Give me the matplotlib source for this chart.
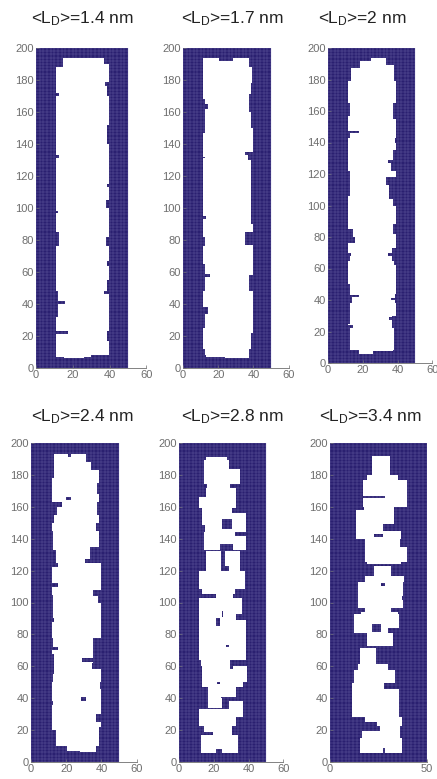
"""Six lattice snapshots of the channel for increasing <L_D>."""
import matplotlib

matplotlib.use("Agg")
from matplotlib.colors import ListedColormap
import matplotlib.pyplot as plt
import numpy as np

plt.rcParams["font.family"] = ["Liberation Sans", "DejaVu Sans"]
plt.rcParams["mathtext.default"] = "regular"

W, H = 437, 779
NAVY = "#2a2070"
MESH = "#8c88c4"
GREY = "#6e6e6e"
SUB = 4  # raster cells per lattice unit

titles = ["1.4", "1.7", "2", "2.4", "2.8", "3.4"]
xticks = [[0, 20, 40, 60]] * 5 + [[0, 50]]
yticks = list(range(0, 201, 20))

# each entry: y0, y1, x0, x1 in lattice units
white_14 = [(6, 7, 15, 26), (7, 8, 11, 30), (8, 188, 11, 39.5), (188, 194, 14.5, 37), (188, 190, 37, 39.5)]
blue_14 = [(21, 23, 11, 17.5), (40, 42, 11, 15.5), (32, 48, 11, 12), (76, 85, 11, 12.5), (97, 98, 11, 12),
           (131, 133, 11, 12.5), (170, 172, 11, 12.5), (17, 23, 38.5, 39.5), (46, 48, 37, 39.5),
           (48, 55, 38.5, 39.5), (64, 67, 38.5, 39.5), (76, 82, 38, 39.5), (100, 105, 38, 39.5),
           (113, 115, 38.5, 39.5), (140, 152, 38.5, 39.5), (170, 178, 38.5, 39.5), (176, 179, 37.5, 39.5)]

white_17 = [(6, 7, 24, 37.5), (7, 8, 13, 37.5), (8, 12, 12.5, 37.5), (12, 188, 11.5, 39.5), (188, 194, 11.5, 37.5)]
blue_17 = [(192, 194, 20.5, 28.5), (178, 188, 39, 39.5), (150, 178, 38.5, 39.5), (160, 171, 37.5, 39.5),
           (133, 135, 35.7, 39.5), (130, 133, 37, 39.5), (90, 130, 38.5, 39.5), (77, 85, 35.7, 39.5),
           (48, 58, 37.5, 39.5), (10, 22, 38.5, 39.5), (6, 10, 37.5, 39.5), (25, 35, 11.5, 12.5),
           (34, 38, 11.5, 14), (48, 65, 11.5, 12.5), (57, 59, 11.5, 15.5), (76, 82, 11.5, 12.5),
           (93, 95, 11.5, 13), (131, 132, 11.5, 12.5), (147, 158, 11.5, 12.5), (158, 168, 11.5, 12.5),
           (162, 165, 11.5, 14)]

white_20 = [(8, 22, 12.5, 38), (5.5, 8, 18, 26), (7.5, 9.5, 26, 37.5), (22, 179, 11.5, 39),
            (179, 187, 13, 38), (187, 189, 18.5, 38), (189, 191.5, 18.5, 33.7), (191.5, 193.5, 24.5, 33.7)]
blue_20 = [(8, 21, 11.5, 12.5), (22, 24, 11.5, 14.5), (25, 50, 11.5, 12.5), (38, 43, 11.5, 14),
           (42, 43, 11.5, 18), (65, 70, 11.5, 12.5), (68, 70, 11.5, 13), (76, 80, 11.5, 15.5),
           (80, 85, 11.5, 14.5), (106, 122, 11.5, 12.5), (146, 147, 11.5, 18), (143, 147, 11.5, 12.5),
           (157, 165, 11.5, 12.5), (22, 30, 36.8, 39), (27, 29, 35.3, 39), (40, 41, 36, 39),
           (38, 44, 38.5, 39), (65, 73, 36.8, 39), (68, 70, 34.5, 39), (62, 65, 38, 39), (82, 88, 37.5, 39),
           (100, 104, 37.5, 39), (104, 113, 35.3, 39), (113, 118, 33.4, 39), (122, 127, 36, 39),
           (127, 129, 34.5, 39), (129, 135, 37.5, 39), (140, 143, 38.5, 39), (155, 165, 37.5, 39)]

white_24 = [(6, 7, 27.8, 36.8), (7, 10, 20.3, 36.8), (10, 20, 14.3, 38.7), (20, 125, 11.8, 40),
            (125, 127, 11.8, 38), (127, 183, 11.8, 38.7), (183, 185, 13, 34.4), (185, 188, 13, 34.4),
            (188, 193, 13, 31)]
blue_24 = [(191, 193, 21, 22.5), (168, 175, 37.6, 38.7), (155, 163, 37.6, 38.7), (145, 150, 37, 38.7),
           (127, 135, 33.5, 38.7), (125, 127, 30.6, 40), (104, 108, 35.7, 40), (100, 104, 38, 40),
           (62, 78, 35.7, 40), (63, 65, 29.3, 40), (58, 62, 34.6, 40), (46, 50, 39, 40), (25, 30, 36.8, 40),
           (20, 22, 38.7, 40), (36, 38, 11.8, 12.8), (55, 68, 11.8, 13.2), (50, 55, 11.8, 12.5),
           (70, 72, 11.8, 15.6), (72, 78, 11.8, 12.8), (88, 90, 11.8, 13.4), (90, 105, 11.8, 12.5),
           (110, 112, 11.8, 15.6), (122, 125, 11.8, 15.6), (125, 133, 11.8, 14.3), (133, 145, 11.8, 12.5),
           (150, 155, 11.8, 13.3), (155, 160, 11.8, 15), (160, 163, 11.8, 17.7), (178, 190, 11.8, 13.2),
           (164, 166, 19.9, 22.7), (38, 41, 28.4, 31.2)]

white_28 = [(5.5, 17, 12.6, 34), (17, 19, 19.7, 30.5), (19, 22.6, 14.6, 30.5), (22.6, 28.5, 11.7, 33),
            (28.5, 33, 11.7, 37), (33, 38, 29, 37), (34, 40, 16.9, 24.5), (40, 41, 16.9, 24),
            (41, 47, 16.9, 33), (47, 50, 13.6, 36.6), (50, 60, 13.6, 39), (60, 64, 12.5, 29.3),
            (64, 89, 11.7, 38.9), (89, 93, 11.7, 32.6), (93, 103, 11.7, 36), (103, 105.7, 21.6, 31.2),
            (105.7, 108.8, 13, 32), (108.8, 120, 11.7, 38), (120, 132, 15.9, 35.4), (133, 135, 30.8, 38.9),
            (133, 135, 14.4, 23.6), (135, 142, 14.4, 38.9), (142, 144, 14.4, 32.4), (144, 148.5, 15, 38.9),
            (148.5, 156, 13, 38.9), (156, 159, 13, 30.3), (159, 166.3, 11.7, 32.8), (166.3, 172, 15.5, 32.8),
            (172, 174.7, 16.3, 29.3), (174.7, 183.6, 14.4, 35.4), (183.6, 189.3, 14.4, 29), (189.3, 191, 15.9, 27.8)]
blue_28 = [(5.5, 8, 21.3, 24.9), (58, 62, 29.3, 30.8), (49, 50.4, 22.2, 23.5), (72, 73.4, 27.4, 29),
           (85.5, 90.7, 21.6, 23.5), (91, 94.7, 24.5, 25.5), (119.7, 123, 26.4, 29), (120, 132, 24, 26.4),
           (135, 136.6, 23.6, 30.8), (146.4, 152.7, 24.9, 30.3)]

white_34 = [(5.5, 14.8, 15.5, 37.3), (14.8, 19.7, 16.3, 36), (19.7, 22.6, 26, 36), (22.6, 25.3, 24, 37.3),
            (25.3, 28.5, 18, 37.3), (28.5, 46, 11.5, 35.6), (46, 49.3, 11.5, 28), (49.3, 57.7, 12.5, 33.5),
            (57.7, 61.9, 14.6, 30), (61.9, 71.3, 15.4, 23.7), (72.8, 81, 19.4, 32.6), (81, 83.8, 12.5, 30),
            (83.8, 92.8, 12.5, 35.6), (92.8, 94.3, 16, 35), (94.3, 96.4, 18, 31.4), (96.4, 113, 14.6, 37.5),
            (113, 116.8, 18.4, 38.3), (116.8, 123, 22.8, 31.4), (124, 125.5, 19.4, 36.6), (125.5, 135, 18, 39.5),
            (135, 140, 18, 36), (140, 144.8, 13.7, 36.6), (144.8, 149.6, 13.7, 27.5), (149.6, 158, 13.7, 33.2),
            (158, 160, 17.7, 33.2), (160, 176.8, 17.2, 39.5), (176.8, 179.9, 19.4, 35.2), (179.9, 191.8, 21.8, 30.9)]
blue_34 = [(5.5, 8.6, 27.5, 28.7), (81.7, 86.5, 21.5, 26.6), (101.5, 104, 37, 38.3), (110.5, 112.6, 26.3, 28.7),
           (141.2, 143.3, 22.7, 27.5), (165.3, 167, 17.2, 28.7)]

whites = [white_14, white_17, white_20, white_24, white_28, white_34]
blues = [blue_14, blue_17, blue_20, blue_24, blue_28, blue_34]

# axes boxes in pixels: left, x at 50, top, bottom
boxes = [(36, 128, 48, 368), (183, 271, 48, 368), (328, 415, 48, 363),
         (31, 119, 443, 762), (179, 266, 443, 762), (330, 427, 443, 762)]
title_at = [(82, 19), (232, 19), (362, 19), (82, 417), (232, 417), (370, 417)]


def lattice(white, blue):
    solid = np.ones((200 * SUB, 50 * SUB), dtype=bool)
    for value, rects in ((False, white), (True, blue)):
        for y0, y1, x0, x1 in rects:
            solid[int(y0 * SUB):int(y1 * SUB), int(x0 * SUB):int(x1 * SUB)] = value
    return solid


fig = plt.figure(figsize=(W / 100, H / 100), dpi=100)
for i, (left, x50, top, bottom) in enumerate(boxes):
    xmax = xticks[i][-1]
    right = left + (x50 - left) * xmax / 50
    ax = fig.add_axes([left / W, 1 - bottom / H, (right - left) / W, (bottom - top) / H])
    xe = np.linspace(0, 50, 50 * SUB + 1)
    ye = np.linspace(0, 200, 200 * SUB + 1)
    solid = lattice(whites[i], blues[i])
    ax.pcolormesh([0, 50], [0, 200], [[1.0]], cmap=ListedColormap([NAVY]), zorder=1)
    ax.vlines(np.arange(0, 51, 2), 0, 200, color=MESH, lw=0.35, alpha=0.55, zorder=2)
    ax.hlines(np.arange(0, 201, 2), 0, 50, color=MESH, lw=0.35, alpha=0.55, zorder=2)
    ax.pcolormesh(xe, ye, np.ma.masked_where(solid, solid.astype(float)), cmap=ListedColormap(["white"]),
                  zorder=3, rasterized=True)
    ax.set_xlim(0, xmax)
    ax.set_ylim(0, 200)
    ax.set_xticks(xticks[i])
    ax.set_yticks(yticks)
    ax.tick_params(colors=GREY, labelsize=8, length=2, width=0.5, pad=1.5, direction="in")
    for side in ("top", "right", "left"):
        ax.spines[side].set_visible(False)
    ax.spines["bottom"].set_color(GREY)
    ax.spines["bottom"].set_linewidth(0.6)
    x, y = title_at[i]
    fig.text(x / W, 1 - y / H, f"<L$_D$>={titles[i]} nm", ha="center", va="center", fontsize=12.5, color="#222222")

fig.savefig("out.png", dpi=100)
